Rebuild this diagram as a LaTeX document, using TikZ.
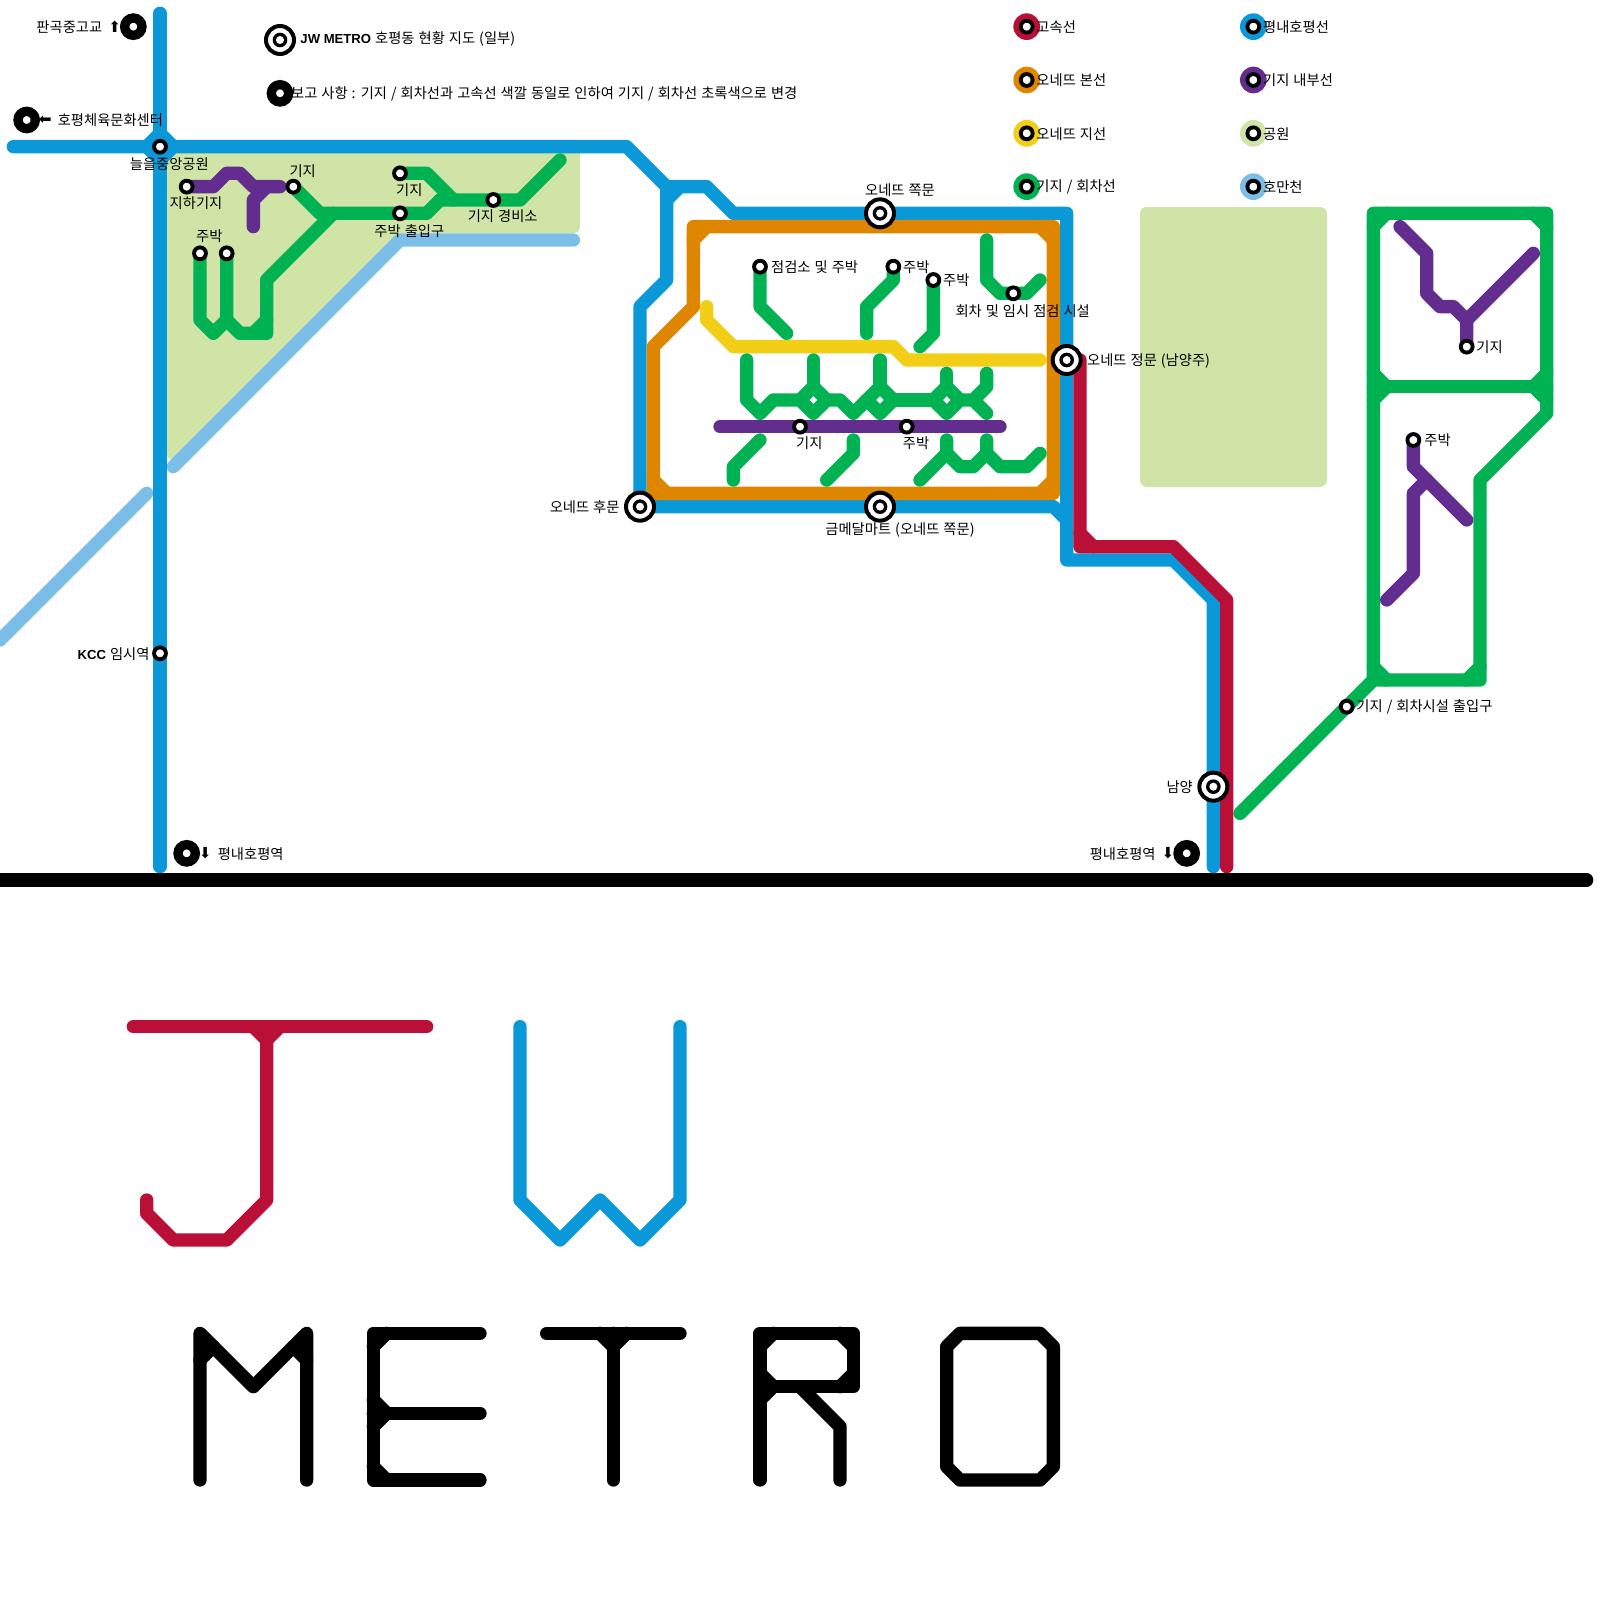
\documentclass[tikz,border=0pt]{standalone}
\usepackage{fontspec}
\setmainfont[WordSpace=1.25]{Noto Sans CJK KR}
\newfontfamily\latfont{Liberation Sans}
\newfontfamily\symfont{DejaVu Sans}
\usepackage{tikz}

\definecolor{colBlue}{HTML}{0A98D8}
\definecolor{colRed}{HTML}{BA1037}
\definecolor{colOrange}{HTML}{DF8600}
\definecolor{colYellow}{HTML}{F2CE16}
\definecolor{colGreen}{HTML}{00B252}
\definecolor{colPurple}{HTML}{632D90}
\definecolor{colPark}{HTML}{CFE4A6}
\definecolor{colSky}{HTML}{7BBEE8}

\newcommand{\boldlat}{\latfont\bfseries\fontsize{5.6}{7}\selectfont}

\tikzset{
    metro/.style={line width=0.2cm, line cap=round, line join=round},
    lblue/.style={metro, draw=colBlue},
    lred/.style={metro, draw=colRed},
    lorange/.style={metro, draw=colOrange},
    lyellow/.style={metro, draw=colYellow},
    lgreen/.style={metro, draw=colGreen},
    lpurple/.style={metro, draw=colPurple},
    lsky/.style={metro, draw=colSky},
    lblack/.style={metro, draw=black},
    park/.style={metro, draw=colPark, fill=colPark},
    stn/.style={circle, draw=black, fill=white, line width=0.058cm, minimum size=0.178cm, inner sep=0pt},
    bigstn/.style={circle, draw=black, fill=white, line width=0.14cm, minimum size=0.26cm, inner sep=0pt},
    hub/.style={circle, draw=black, fill=white, line width=0.06cm, minimum size=0.42cm, inner sep=0pt,
        path picture={
            \fill[black] (path picture bounding box.center) circle (0.11cm);
            \fill[white] (path picture bounding box.center) circle (0.06cm);
        }},
    keydot/.style={circle, minimum size=0.4cm, inner sep=0pt},
    lab/.style={font=\fontsize{6.1}{7}\selectfont, inner sep=0pt, yshift=-0.25pt},
    arr/.style={font=\symfont\fontsize{6.5}{7}\selectfont, inner sep=0pt}
}

\begin{document}
\begin{tikzpicture}[x=0.2cm, y=-0.2cm]
    \useasboundingbox (0,0) rectangle (120,120);

    % 1. Parks
    \draw[park] (13,11) -- (43,11) -- (43,17) -- (30,17) -- (13,34) -- cycle;
    \draw[park] (86,16) rectangle (99,36);

    % 2. Stream
    \draw[lsky] (43,18) -- (30,18) -- (13,35);
    \draw[lsky] (11,37) -- (0,48);

    % 3. Blue line
    \draw[lblue] (12,1) -- (12,65);
    \draw[lblue] (1,11) -- (47,11) -- (50,14) -- (53,14) -- (55,16) -- (80,16) -- (80,42) -- (88,42) -- (91,45) -- (91,65);
    \draw[lblue] (50,14) -- (50,21) -- (48,23) -- (48,38) -- (79,38) -- (80,39);
    \draw[lblue] (50,15) -- (51,14);
    \draw[lblue] (11,11) -- (12,10) -- (13,11) -- (12,12) -- cycle;

    % 4. Red line
    \draw[lred] (81,27) -- (81,41) -- (88,41) -- (92,45) -- (92,65);
    \draw[lred] (81,40) -- (82,41);

    % 5. Orange and yellow lines
    \draw[lorange] (52,17) -- (79,17) -- (79,37) -- (49,37) -- (49,26) -- (52,23) -- cycle;
    \draw[lorange] (52,18) -- (53,17) (78,17) -- (79,18) (79,36) -- (78,37) (50,37) -- (49,36);
    \draw[lyellow] (53,23) -- (53,24) -- (55,26) -- (67,26) -- (68,27) -- (78,27);

    % 6. Depot tracks, upper left
    \draw[lgreen] (22,14) -- (24,16) -- (32,16) -- (33,15);
    \draw[lgreen] (30,13) -- (32,13) -- (34,15);
    \draw[lgreen] (33,15) -- (39,15) -- (42,12);
    \draw[lgreen] (25,16) -- (20,21) -- (20,25) -- (18,25) -- (17,24) -- (17,19);
    \draw[lgreen] (17,24) -- (16,25) -- (15,24) -- (15,19);
    \draw[lgreen] (19,25) -- (20,24);
    \draw[lpurple] (14,14) -- (16,14) -- (17,13) -- (18,13) -- (19,14) -- (21,14);
    \draw[lpurple] (19,17) -- (19,15) -- (20,14);

    % 7. Depot tracks inside the orange loop
    \draw[lgreen] (57,20) -- (57,23) -- (59,25);
    \draw[lgreen] (67,20) -- (67,21) -- (65,23) -- (65,25);
    \draw[lgreen] (70,21) -- (70,25) -- (69,26);
    \draw[lgreen] (74,18) -- (74,21) -- (75,22) -- (77,22) -- (78,21);
    \draw[lgreen] (56,27) -- (56,30) -- (57,31) -- (58,30) -- (60,30);
    \draw[lgreen] (60,30) -- (61,29) -- (62,30) -- (61,31) -- cycle;
    \draw[lgreen] (62,30) -- (63,30) -- (64,31) -- (65,30);
    \draw[lgreen] (65,30) -- (66,29) -- (67,30) -- (66,31) -- cycle;
    \draw[lgreen] (67,30) -- (70,30);
    \draw[lgreen] (70,30) -- (71,29) -- (72,30) -- (71,31) -- cycle;
    \draw[lgreen] (72,30) -- (73,30) -- (74,29) -- (74,28);
    \draw[lgreen] (73,30) -- (74,31);
    \draw[lgreen] (61,27) -- (61,29);
    \draw[lgreen] (66,27) -- (66,29);
    \draw[lgreen] (71,28) -- (71,29);
    \draw[lgreen] (55,36) -- (55,35) -- (57,33);
    \draw[lgreen] (62,36) -- (64,34) -- (64,33);
    \draw[lgreen] (69,36) -- (71,34) -- (71,33);
    \draw[lgreen] (71,34) -- (72,35) -- (73,35) -- (74,34) -- (74,33);
    \draw[lgreen] (74,34) -- (75,35) -- (77,35) -- (78,34);
    \draw[lpurple] (54,32) -- (75,32);

    % 8. Depot on the right
    \draw[lgreen] (93,61) -- (103,51) -- (103,16) -- (116,16) -- (116,31) -- (111,36) -- (111,51) -- (103,51);
    \draw[lgreen] (103,29) -- (116,29);
    \draw[lgreen] (103,17) -- (104,16) (115,16) -- (116,17);
    \draw[lgreen] (103,28) -- (104,29) -- (103,30) (116,28) -- (115,29) -- (116,30);
    \draw[lgreen] (103,50) -- (104,51) (110,51) -- (111,50);
    \draw[lpurple] (105,17) -- (107,19) -- (107,22) -- (108,23) -- (109,23) -- (110,24) -- (110,26);
    \draw[lpurple] (115,19) -- (110,24);
    \draw[lpurple] (106,33) -- (106,35) -- (110,39);
    \draw[lpurple] (104,45) -- (106,43) -- (106,37) -- (107,36);

    % 9. Border line
    \draw[lblack] (0,66) -- (119,66);

    % 10. Logo JW
    \draw[lred] (10,77) -- (32,77);
    \draw[lred] (20,77) -- (20,90) -- (17,93) -- (13,93) -- (11,91) -- (11,90);
    \draw[lred] (19,77) -- (20,78) -- (21,77);
    \draw[lblue] (39,77) -- (39,90) -- (42,93) -- (45,90) -- (48,93) -- (51,90) -- (51,77);

    % 11. Logo METRO
    \draw[lblack] (15,111) -- (15,100) -- (19,104) -- (23,100) -- (23,111);
    \draw[lblack] (15,102) -- (16,101) (23,102) -- (22,101);
    \draw[lblack] (36,100) -- (28,100) -- (28,111) -- (36,111);
    \draw[lblack] (28,106) -- (36,106);
    \draw[lblack] (28,101) -- (29,100) (28,105) -- (29,106) -- (28,107) (28,110) -- (29,111);
    \draw[lblack] (41,100) -- (51,100);
    \draw[lblack] (46,100) -- (46,111);
    \draw[lblack] (45,100) -- (46,101) -- (47,100);
    \draw[lblack] (57,111) -- (57,100) -- (64,100) -- (64,104) -- (57,104);
    \draw[lblack] (60,104) -- (63,107) -- (63,111);
    \draw[lblack] (57,101) -- (58,100) (63,100) -- (64,101) (64,103) -- (63,104) (57,103) -- (58,104) -- (57,105);
    \draw[lblack] (72,100) -- (78,100) -- (79,101) -- (79,110) -- (78,111) -- (72,111) -- (71,110) -- (71,101) -- cycle;

    % 12. Stations
    \node[stn] (nOgil) at (12,11) {};
    \node[stn] (kcc) at (12,49) {};
    \node[stn] (jiha) at (14,14) {};
    \node[stn] (giji1) at (22,14) {};
    \node[stn] (giji2) at (30,13) {};
    \node[stn] (juChul) at (30,16) {};
    \node[stn] (gyeong) at (37,15) {};
    \node[stn] (ju1) at (15,19) {};
    \node[stn] (ju2) at (17,19) {};
    \node[stn] (jeom) at (57,20) {};
    \node[stn] (ju3) at (67,20) {};
    \node[stn] (ju4) at (70,21) {};
    \node[stn] (hoecha) at (76,22) {};
    \node[stn] (giji3) at (60,32) {};
    \node[stn] (ju5) at (68,32) {};
    \node[stn] (giji4) at (110,26) {};
    \node[stn] (ju6) at (106,33) {};
    \node[stn] (chul) at (101,53) {};

    \node[bigstn] (pangok) at (10,2) {};
    \node[bigstn] (hopyeong) at (2,9) {};
    \node[bigstn] (note) at (21,7) {};
    \node[bigstn] (pnL) at (14,64) {};
    \node[bigstn] (pnR) at (89,64) {};

    \node[hub] (title) at (21,3) {};
    \node[hub] (jjokTop) at (66,16) {};
    \node[hub] (humun) at (48,38) {};
    \node[hub] (geum) at (66,38) {};
    \node[hub] (jeongmun) at (80,27) {};
    \node[hub] (namyang) at (91,59) {};

    % 13. Legend
    \node[keydot, fill=colRed] (k1) at (77,2) {};
    \node[keydot, fill=colOrange] (k2) at (77,6) {};
    \node[keydot, fill=colYellow] (k3) at (77,10) {};
    \node[keydot, fill=colGreen] (k4) at (77,14) {};
    \node[keydot, fill=colBlue] (k5) at (94,2) {};
    \node[keydot, fill=colPurple] (k6) at (94,6) {};
    \node[keydot, fill=colPark] (k7) at (94,10) {};
    \node[keydot, fill=colSky] (k8) at (94,14) {};
    \node[stn] (s1) at (77,2) {};
    \node[stn] (s2) at (77,6) {};
    \node[stn] (s3) at (77,10) {};
    \node[stn] (s4) at (77,14) {};
    \node[stn] (s5) at (94,2) {};
    \node[stn] (s6) at (94,6) {};
    \node[stn] (s7) at (94,10) {};
    \node[stn] (s8) at (94,14) {};
    \node[lab, anchor=west] (t1) at (77.7,2) {고속선};
    \node[lab, anchor=west] (t2) at (77.7,6) {오네뜨 본선};
    \node[lab, anchor=west] (t3) at (77.7,10) {오네뜨 지선};
    \node[lab, anchor=west] (t4) at (77.7,14) {기지 / 회차선};
    \node[lab, anchor=west] (t5) at (94.7,2) {평내호평선};
    \node[lab, anchor=west] (t6) at (94.7,6) {기지 내부선};
    \node[lab, anchor=west] (t7) at (94.7,10) {공원};
    \node[lab, anchor=west] (t8) at (94.7,14) {호만천};

    % 14. Labels
    \node[lab, anchor=east] (tPangok) at (7.7,2) {판곡중고교};
    \node[arr] (aUp) at (8.6,2) {⬆};
    \node[arr] (aLeft) at (3.4,9) {⬅};
    \node[lab, anchor=west] (tHopyeong) at (4.3,9) {호평체육문화센터};
    \node[lab, anchor=west] (tTitle) at (22.5,2.9) {{\boldlat JW METRO} 호평동 현황 지도 (일부)};
    \node[lab, anchor=west] (tNote) at (21.8,7) {보고 사항 : 기지 / 회차선과 고속선 색깔 동일로 인하여 기지 / 회차선 초록색으로 변경};
    \node[lab] (tOgil) at (12.7,12.25) {늘을중앙공원};
    \node[lab] (tJiha) at (14.7,15.2) {지하기지};
    \node[lab] (tGiji1) at (22.7,12.8) {기지};
    \node[lab] (tGiji2) at (30.7,14.2) {기지};
    \node[lab] (tJuChul) at (30.7,17.3) {주박 출입구};
    \node[lab] (tGyeong) at (37.7,16.2) {기지 경비소};
    \node[lab] (tJu1) at (15.7,17.7) {주박};
    \node[lab] (tJjok) at (67.5,14.2) {오네뜨 쪽문};
    \node[lab] (tGeum) at (67.5,39.7) {금메달마트 (오네뜨 쪽문)};
    \node[lab, anchor=east] (tHumun) at (46.5,38) {오네뜨 후문};
    \node[lab, anchor=west] (tJeom) at (57.8,20) {점검소 및 주박};
    \node[lab, anchor=west] (tJu3) at (67.7,20) {주박};
    \node[lab, anchor=west] (tJu4) at (70.7,21) {주박};
    \node[lab] (tHoecha) at (76.7,23.3) {회차 및 임시 점검 시설};
    \node[lab, anchor=west] (tJeong) at (81.5,27) {오네뜨 정문 (남양주)};
    \node[lab] (tGiji3) at (60.7,33.2) {기지};
    \node[lab] (tJu5) at (68.7,33.2) {주박};
    \node[lab, anchor=west] (tGiji4) at (110.7,26) {기지};
    \node[lab, anchor=west] (tJu6) at (106.8,33) {주박};
    \node[lab, anchor=west] (tChul) at (101.7,53) {기지 / 회차시설 출입구};
    \node[lab, anchor=east] (tKcc) at (11.25,49) {{\boldlat KCC} 임시역};
    \node[arr] (aDownL) at (15.4,64) {⬇};
    \node[lab, anchor=west] (tPnL) at (16.3,64) {평내호평역};
    \node[lab, anchor=east] (tNam) at (89.5,59) {남양};
    \node[arr] (aDownR) at (87.6,64) {⬇};
    \node[lab, anchor=east] (tPnR) at (86.7,64) {평내호평역};

\end{tikzpicture}
\end{document}
